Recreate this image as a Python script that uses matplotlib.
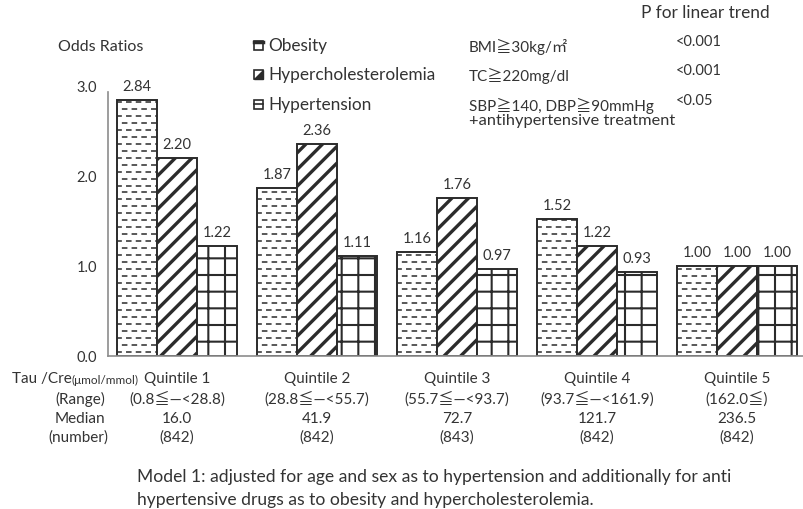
import numpy as np
import matplotlib
matplotlib.use("Agg")
import matplotlib.pyplot as plt
from matplotlib.patches import Rectangle, Polygon
from matplotlib.lines import Line2D

# odds ratios by Tau/Cre quintile
quintiles = ["Quintile 1", "Quintile 2", "Quintile 3", "Quintile 4", "Quintile 5"]
ranges = ["(0.8\u2266\u2014<28.8)", "(28.8\u2266\u2014<55.7)", "(55.7\u2266\u2014<93.7)",
          "(93.7\u2266\u2014<161.9)", "(162.0\u2266)"]
medians = ["16.0", "41.9", "72.7", "121.7", "236.5"]
numbers = ["(842)", "(842)", "(843)", "(842)", "(842)"]

obesity = [2.84, 1.87, 1.16, 1.52, 1.00]
hyperchol = [2.20, 2.36, 1.76, 1.22, 1.00]
hypertension = [1.22, 1.11, 0.97, 0.93, 1.00]

series = ["Obesity", "Hypercholesterolemia", "Hypertension"]
criteria = ["BMI\u226730kg/\u33a1", "TC\u2267220mg/dl", "SBP\u2267140, DBP\u226790mmHg"]
p_trend = ["<0.001", "<0.001", "<0.05"]

yticks = [0.0, 1.0, 2.0, 3.0]

FONT = ["Lato", "Noto Sans CJK JP", "DejaVu Sans"]
plt.rcParams["font.family"] = FONT
plt.rcParams["lines.scale_dashes"] = False

TXT = "#333333"
EDGE = "#2b2b2b"
W, H = 804, 510


def fx(x):
    return x / W


def fy(y):
    return 1 - y / H


fig = plt.figure(figsize=(8.04, 5.10), dpi=100)
ax = fig.add_axes([fx(108), fy(357), fx(804 - 108), (357 - 87) / H])
ax.set_xlim(-0.493, 4.479)
ax.set_ylim(0, 3.0)

x = np.arange(len(quintiles))
bw = 0.286

bars_ob = ax.bar(x - bw, obesity, bw, color="white", edgecolor=EDGE, lw=1.4, zorder=2)
with plt.rc_context({"hatch.linewidth": 2.4}):
    bars_hc = ax.bar(x, hyperchol, bw, color="white", edgecolor=EDGE, lw=1.4,
                     hatch="//", zorder=2)
with plt.rc_context({"hatch.linewidth": 1.5}):
    bars_ht = ax.bar(x + bw, hypertension, bw, color="white", edgecolor=EDGE, lw=1.4,
                     hatch="+", zorder=2)

# staggered dash fill for the obesity bars
step = 0.077
for bar in bars_ob:
    x0 = bar.get_x()
    x1 = x0 + bar.get_width()
    ys = np.arange(step * 0.6, bar.get_height(), step)
    for k, yy in enumerate(ys):
        off = 3.5 if k % 2 else 0.5
        ln, = ax.plot([x0, x1], [yy, yy], color=EDGE, lw=1.1,
                      linestyle=(off, (4.0, 3.0)), zorder=2.5,
                      dash_capstyle="butt")
        ln.set_clip_path(bar)

# value labels
for bars, vals in [(bars_ob, obesity), (bars_hc, hyperchol), (bars_ht, hypertension)]:
    for bar, v in zip(bars, vals):
        ax.annotate(f"{v:.2f}", (bar.get_x() + bar.get_width() / 2, v),
                    xytext=(0, 5), textcoords="offset points",
                    ha="center", va="bottom", fontsize=10.5, color=TXT)

for s in ["top", "right"]:
    ax.spines[s].set_visible(False)
for s in ["left", "bottom"]:
    ax.spines[s].set_color("#8c8c8c")
    ax.spines[s].set_linewidth(1.2)
ax.spines["left"].set_bounds(0, 2.93)
ax.set_yticks(yticks)
ax.set_yticklabels([f"{t:.1f}" for t in yticks], fontsize=10.5, color=TXT)
ax.tick_params(axis="y", length=0, pad=8)
ax.set_xticks([])

fig.text(fx(58), fy(47), "Odds Ratios", fontsize=11.5, color=TXT, va="center")

# table under the axis, one row per line of text
rows_y = [379, 399, 419, 438]
row_text = [quintiles, ranges, medians, numbers]
ax_h = ax.get_position().height
for ry, labels in zip(rows_y, row_text):
    yy = (fy(ry) - fy(357)) / ax_h
    for xi, lab in zip(x, labels):
        ax.text(xi, yy, lab, transform=ax.get_xaxis_transform(),
                ha="center", va="center", fontsize=11, color=TXT)

fig.text(fx(72), fy(379), "Tau /Cre", fontsize=11, color=TXT, ha="right", va="center")
fig.text(fx(72), fy(380), "(\u03bcmol/mmol)", fontsize=8.5, color=TXT, ha="left", va="center")
fig.text(fx(80), fy(399), "(Range)", fontsize=11, color=TXT, ha="center", va="center")
fig.text(fx(80), fy(419), "Median", fontsize=11, color=TXT, ha="center", va="center")
fig.text(fx(78), fy(438), "(number)", fontsize=11, color=TXT, ha="center", va="center")

fig.text(fx(137), fy(477),
         "Model 1: adjusted for age and sex as to hypertension and additionally for anti",
         fontsize=12.6, color=TXT, va="center")
fig.text(fx(137), fy(500),
         "hypertensive drugs as to obesity and hypercholesterolemia.",
         fontsize=12.6, color=TXT, va="center")

# legend with criteria and trend p-values
leg_y = [46, 75, 105]
for i, (name, crit, p) in enumerate(zip(series, criteria, p_trend)):
    yy = leg_y[i]
    fig.text(fx(268), fy(yy), name, fontsize=12.4, color=TXT, va="center")
    fig.text(fx(469), fy(yy + 1), crit, fontsize=11, color=TXT, va="center")
    fig.text(fx(676), fy(yy - 4), p, fontsize=10.5, color=TXT, va="center")
fig.text(fx(469), fy(121), "+antihypertensive treatment", fontsize=11.8, color=TXT,
         va="center")
fig.text(fx(641), fy(13), "P for linear trend", fontsize=12.4, color=TXT, va="center")

# tiny legend icons
s = 9
for i, yy in enumerate(leg_y):
    x0, y0 = 254, yy + s / 2
    box = Rectangle((fx(x0), fy(y0)), s / W, s / H, transform=fig.transFigure,
                    facecolor="white", edgecolor=EDGE, lw=1.2)
    fig.patches.append(box)
    if i == 0:
        fig.lines.append(Line2D([fx(x0), fx(x0 + s)], [fy(y0 - s + 1), fy(y0 - s + 1)],
                                transform=fig.transFigure, color=EDGE, lw=2.5))
    elif i == 1:
        tri = Polygon([(fx(x0 + s), fy(y0 - s)), (fx(x0 + s), fy(y0)), (fx(x0), fy(y0))],
                      closed=True, transform=fig.transFigure, color=EDGE)
        fig.patches.append(tri)
    else:
        fig.lines.append(Line2D([fx(x0), fx(x0 + s)], [fy(y0 - s / 2), fy(y0 - s / 2)],
                                transform=fig.transFigure, color=EDGE, lw=1.2))

fig.savefig("out.png", dpi=100, facecolor="white")
